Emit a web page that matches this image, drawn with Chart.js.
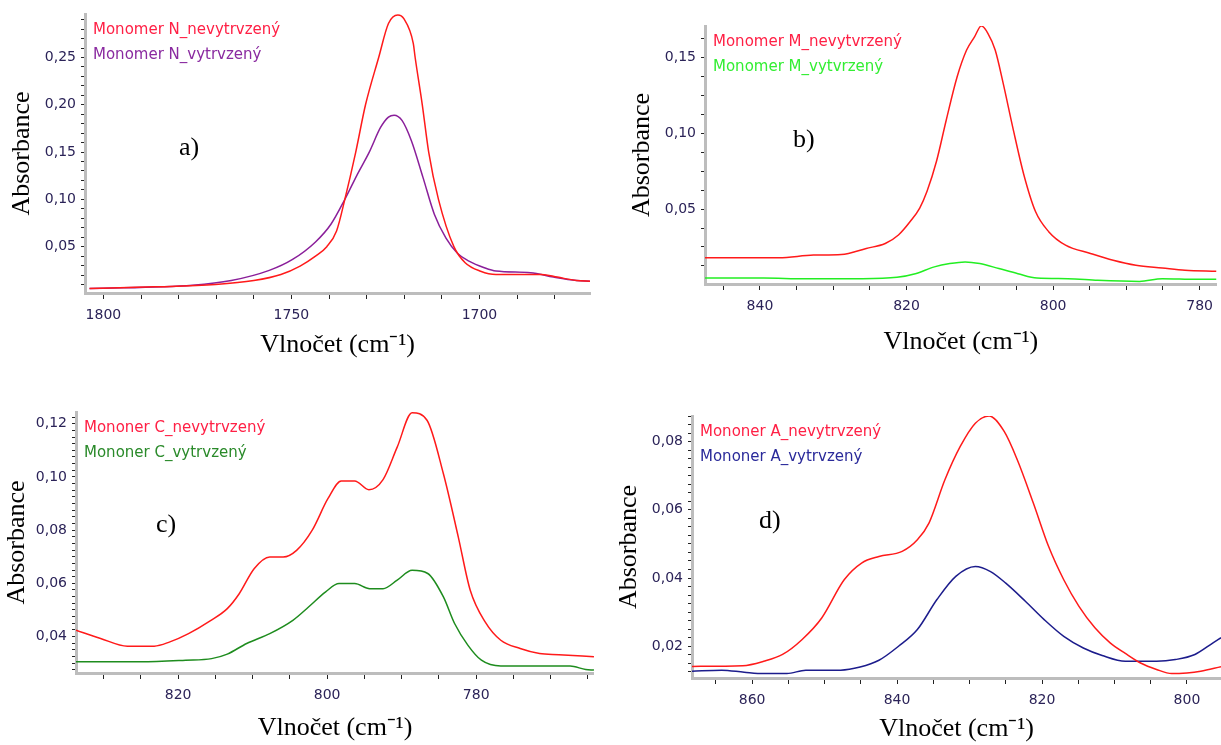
<!DOCTYPE html>
<html>
<head>
<meta charset="utf-8">
<script src="https://cdn.jsdelivr.net/npm/chart.js@4"></script>
<style>
  html, body { margin: 0; padding: 0; background: #fff; }
  #wrap { position: relative; width: 1221px; height: 745px; overflow: hidden; }
  .panel { position: absolute; }
</style>
</head>
<body>
<div id="wrap">
  <div class="panel" style="left:0;top:0;width:592px;height:365px"><canvas id="chartA"></canvas></div>
  <div class="panel" style="left:610px;top:0;width:611px;height:365px"><canvas id="chartB"></canvas></div>
  <div class="panel" style="left:0;top:380px;width:596px;height:365px"><canvas id="chartC"></canvas></div>
  <div class="panel" style="left:610px;top:380px;width:611px;height:365px"><canvas id="chartD"></canvas></div>
</div>
<script>
// a) Monomer N
const aLabels = ['Monomer N_nevytrvzený', 'Monomer N_vytrvzený'];
const aRedX = [1803.7, 1786.5, 1770.2, 1760.0, 1752.8, 1747.7, 1743.6, 1740.6, 1738.0, 1735.8, 1732.9, 1730.3, 1726.8, 1724.2, 1721.7, 1720.1, 1717.6, 1717.1, 1715.2, 1713.5, 1710.9, 1706.8, 1703.8, 1699.7, 1695.6, 1683.4, 1679.3, 1674.2, 1670.6];
const aRedY = [0.0057, 0.0075, 0.0100, 0.0142, 0.0206, 0.0295, 0.0400, 0.0500, 0.0666, 0.1000, 0.1500, 0.2000, 0.2500, 0.2860, 0.2950, 0.2910, 0.2650, 0.2500, 0.2000, 0.1500, 0.1000, 0.0500, 0.0330, 0.0240, 0.0206, 0.0206, 0.0178, 0.0142, 0.0135];
const aPurX = [1803.7, 1776.3, 1766.0, 1755.9, 1749.7, 1743.6, 1739.5, 1735.8, 1732.4, 1729.3, 1726.3, 1724.2, 1722.7, 1720.6, 1718.1, 1715.0, 1712.0, 1708.9, 1705.8, 1702.8, 1698.7, 1695.6, 1686.4, 1680.3, 1674.2, 1670.6];
const aPurY = [0.0057, 0.0093, 0.0142, 0.0249, 0.0365, 0.0550, 0.0737, 0.1000, 0.1270, 0.1500, 0.1760, 0.1870, 0.1890, 0.1835, 0.1620, 0.1230, 0.0843, 0.0590, 0.0428, 0.0347, 0.0277, 0.0242, 0.0224, 0.0178, 0.0142, 0.0135];

// b) Monomer M
const bLabels = ['Monomer M_nevytvrzený', 'Monomer M_vytvrzený'];
const bRedX = [847.5, 837.4, 832.7, 828.9, 825.5, 822.9, 821.1, 819.5, 818.2, 817.2, 815.9, 814.6, 813.1, 811.8, 810.7, 809.8, 808.9, 807.9, 806.8, 805.5, 804.0, 802.4, 800.6, 798.3, 794.9, 791.8, 788.7, 785.1, 782.0, 777.7];
const bRedY = [0.0178, 0.0178, 0.0196, 0.0200, 0.0240, 0.0273, 0.0329, 0.0418, 0.0507, 0.0618, 0.0818, 0.1084, 0.1373, 0.1551, 0.1640, 0.1711, 0.1662, 0.1551, 0.1329, 0.1040, 0.0729, 0.0484, 0.0351, 0.0262, 0.0207, 0.0162, 0.0129, 0.0111, 0.0096, 0.0089];
const bGreenX = [847.5, 839.5, 833.8, 826.0, 821.3, 818.8, 816.2, 814.1, 812.0, 810.0, 807.4, 804.8, 802.2, 798.0, 793.9, 788.2, 785.1, 780.4, 777.7];
const bGreenY = [0.0044, 0.0044, 0.0040, 0.0040, 0.0049, 0.0073, 0.0118, 0.0140, 0.0151, 0.0140, 0.0107, 0.0073, 0.0044, 0.0040, 0.0029, 0.0022, 0.0040, 0.0036, 0.0036];

// c) Mononer C
const cLabels = ['Mononer C_nevytrvzený', 'Mononer C_vytrvzený'];
const cRedX = [833.7, 830.4, 826.8, 823.2, 821.1, 818.6, 815.7, 813.4, 811.8, 809.8, 807.7, 805.9, 804.1, 802.0, 799.9, 798.1, 796.3, 794.4, 792.5, 790.6, 788.6, 786.6, 784.4, 782.4, 780.8, 778.8, 776.7, 774.1, 771.5, 768.9, 764.2];
const cRedY = [0.0424, 0.0393, 0.0364, 0.0364, 0.0380, 0.0411, 0.0459, 0.0505, 0.0561, 0.0655, 0.0699, 0.0699, 0.0724, 0.0800, 0.0918, 0.0985, 0.0985, 0.0952, 0.0990, 0.1112, 0.1241, 0.1213, 0.1012, 0.0774, 0.0574, 0.0455, 0.0386, 0.0355, 0.0336, 0.0332, 0.0324];
const cGreenX = [833.7, 825.0, 819.0, 815.5, 813.4, 810.8, 807.7, 804.6, 802.5, 800.2, 798.4, 796.3, 794.3, 792.5, 790.6, 788.6, 786.5, 784.4, 782.9, 781.1, 779.3, 776.7, 767.4, 765.3, 764.2];
const cGreenY = [0.0305, 0.0305, 0.0311, 0.0317, 0.0334, 0.0374, 0.0411, 0.0461, 0.0511, 0.0568, 0.0599, 0.0599, 0.0580, 0.0580, 0.0612, 0.0649, 0.0637, 0.0549, 0.0449, 0.0367, 0.0311, 0.0289, 0.0289, 0.0276, 0.0274];

// d) Mononer A
const dLabels = ['Mononer A_nevytrvzený', 'Mononer A_vytrvzený'];
const dRedX = [868.3, 861.3, 858.4, 855.8, 853.1, 850.4, 847.3, 844.9, 842.5, 839.3, 837.2, 835.6, 833.4, 831.3, 829.2, 827.3, 825.2, 823.4, 821.2, 819.1, 817.0, 814.9, 812.7, 810.6, 808.5, 806.4, 804.2, 802.1, 800.0, 798.1, 795.3];
const dRedY = [0.0141, 0.0143, 0.0156, 0.0176, 0.0220, 0.0283, 0.0395, 0.0444, 0.0463, 0.0478, 0.0512, 0.0561, 0.0688, 0.0785, 0.0854, 0.0875, 0.0829, 0.0746, 0.0620, 0.0493, 0.0395, 0.0317, 0.0254, 0.0210, 0.0179, 0.0151, 0.0132, 0.0120, 0.0122, 0.0127, 0.0140];
const dBlueX = [868.3, 864.2, 861.1, 858.4, 855.2, 852.6, 847.8, 845.1, 842.5, 839.8, 837.2, 834.5, 831.9, 829.2, 827.1, 825.0, 822.3, 819.7, 817.0, 814.3, 811.7, 808.5, 804.2, 801.6, 798.9, 796.4, 795.3];
const dBlueY = [0.0127, 0.0130, 0.0124, 0.0120, 0.0120, 0.0130, 0.0130, 0.0139, 0.0159, 0.0200, 0.0249, 0.0337, 0.0405, 0.0434, 0.0419, 0.0385, 0.0332, 0.0278, 0.0229, 0.0195, 0.0173, 0.0156, 0.0156, 0.0161, 0.0176, 0.0210, 0.0225];

const TICK_COLOR = '#2b2358';
const TICK_FONT = { family: 'DejaVu Sans', size: 14 };
const SERIF = 'Liberation Serif';

function pts(xs, ys) {
  return xs.map((x, i) => ({ x, y: ys[i] }));
}

function isMult(v, step) {
  const r = v / step;
  return Math.abs(r - Math.round(r)) < 1e-6;
}

// legend text and panel letter drawn inside the plot area
const panelText = {
  id: 'panelText',
  afterDraw(chart, args, opts) {
    const { ctx, chartArea } = chart;
    ctx.save();
    ctx.font = '15px "DejaVu Sans"';
    ctx.textBaseline = 'alphabetic';
    chart.data.datasets.forEach((ds, i) => {
      ctx.fillStyle = ds.textColor;
      ctx.fillText(ds.label, chartArea.left + 8, chartArea.top + 20 + i * 25);
    });
    ctx.font = '26px "' + SERIF + '"';
    ctx.fillStyle = '#000';
    ctx.fillText(opts.letter, chartArea.left + opts.dx, chartArea.top + opts.dy);
    ctx.restore();
  }
};

function makeChart(id, o) {
  const ctx = document.getElementById(id);
  return new Chart(ctx, {
    type: 'line',
    data: {
      datasets: o.series.map(s => ({
        label: s.label,
        data: s.data,
        borderColor: s.color,
        textColor: s.textColor,
        borderWidth: 1.5,
        pointRadius: 0,
        cubicInterpolationMode: 'monotone',
        fill: false,
      }))
    },
    options: {
      responsive: true,
      maintainAspectRatio: false,
      animation: false,
      layout: { padding: { top: o.padTop, right: o.padRight, left: 0, bottom: 0 } },
      plugins: {
        legend: { display: false },
        tooltip: { enabled: false },
        panelText: { letter: o.letter, dx: o.letterDx, dy: o.letterDy },
      },
      scales: {
        x: {
          type: 'linear',
          reverse: true,
          min: o.xMin,
          max: o.xMax,
          afterFit: s => { s.height = o.xHeight; },
          border: { color: '#bdbdbd', width: 3 },
          grid: { drawOnChartArea: false, drawTicks: true, tickLength: 6, tickColor: '#222', tickWidth: 1 },
          ticks: {
            stepSize: o.xStep,
            autoSkip: false,
            includeBounds: false,
            maxRotation: 0,
            padding: 8,
            color: TICK_COLOR,
            font: TICK_FONT,
            callback: v => isMult(v, o.xMajor) ? String(Math.round(v)) : '',
          },
          title: {
            display: true,
            text: 'Vlnočet (cm⁻¹)',
            color: '#000',
            font: { family: SERIF, size: 26 },
            padding: { top: 0, bottom: o.xTitlePad },
          },
        },
        y: {
          type: 'linear',
          min: o.yMin,
          max: o.yMax,
          afterFit: s => { s.width = o.yWidth; },
          border: { color: '#bdbdbd', width: 3 },
          grid: { drawOnChartArea: false, drawTicks: true, tickLength: 4, tickColor: '#222', tickWidth: 1 },
          ticks: {
            stepSize: o.yStep,
            autoSkip: false,
            includeBounds: false,
            padding: 5,
            color: TICK_COLOR,
            font: TICK_FONT,
            callback: v => (v > 1e-9 && isMult(v, o.yMajor)) ? v.toFixed(2).replace('.', ',') : '',
          },
          title: {
            display: true,
            text: 'Absorbance',
            color: '#000',
            font: { family: SERIF, size: 26 },
            padding: { top: o.yTitlePad, bottom: 0 },
          },
        },
      },
    },
    plugins: [panelText],
  });
}

makeChart('chartA', {
  series: [
    { label: aLabels[0], data: pts(aRedX, aRedY), color: '#ff1a1a', textColor: '#ff2045' },
    { label: aLabels[1], data: pts(aPurX, aPurY), color: '#8a1f9a', textColor: '#8a2aa0' },
  ],
  xMin: 1670.6, xMax: 1804.9, xStep: 10, xMajor: 50,
  yMin: 0.001, yMax: 0.296, yStep: 0.01, yMajor: 0.05,
  yWidth: 85, xHeight: 72, padTop: 14, padRight: 2,
  yTitlePad: 7, xTitlePad: 4,
  letter: 'a)', letterDx: 94, letterDy: 141,
});

makeChart('chartB', {
  series: [
    { label: bLabels[0], data: pts(bRedX, bRedY), color: '#ff1a1a', textColor: '#ff2045' },
    { label: bLabels[1], data: pts(bGreenX, bGreenY), color: '#22ee22', textColor: '#33ee33' },
  ],
  xMin: 777.7, xMax: 847.5, xStep: 5, xMajor: 20,
  yMin: 0.0005, yMax: 0.171, yStep: 0.0125, yMajor: 0.05,
  yWidth: 95, xHeight: 81, padTop: 26, padRight: 0,
  yTitlePad: 17, xTitlePad: 7,
  letter: 'b)', letterDx: 88, letterDy: 121,
});

makeChart('chartC', {
  series: [
    { label: cLabels[0], data: pts(cRedX, cRedY), color: '#ff1a1a', textColor: '#ff2045' },
    { label: cLabels[1], data: pts(cGreenX, cGreenY), color: '#1e8c1e', textColor: '#2a8a2a' },
  ],
  xMin: 764.2, xMax: 833.7, xStep: 5, xMajor: 20,
  yMin: 0.0263, yMax: 0.1244, yStep: 0.0025, yMajor: 0.02,
  yWidth: 76, xHeight: 72, padTop: 32, padRight: 2,
  yTitlePad: 2, xTitlePad: 1,
  letter: 'c)', letterDx: 80, letterDy: 120,
});

makeChart('chartD', {
  series: [
    { label: dLabels[0], data: pts(dRedX, dRedY), color: '#ff1a1a', textColor: '#ff2045' },
    { label: dLabels[1], data: pts(dBlueX, dBlueY), color: '#1c1c8c', textColor: '#2a2a9a' },
  ],
  xMin: 795.3, xMax: 868.3, xStep: 5, xMajor: 20,
  yMin: 0.0107, yMax: 0.0875, yStep: 0.0025, yMajor: 0.02,
  yWidth: 82, xHeight: 67, padTop: 36, padRight: 0,
  yTitlePad: 4, xTitlePad: 0,
  letter: 'd)', letterDx: 67, letterDy: 112,
});
</script>
</body>
</html>
